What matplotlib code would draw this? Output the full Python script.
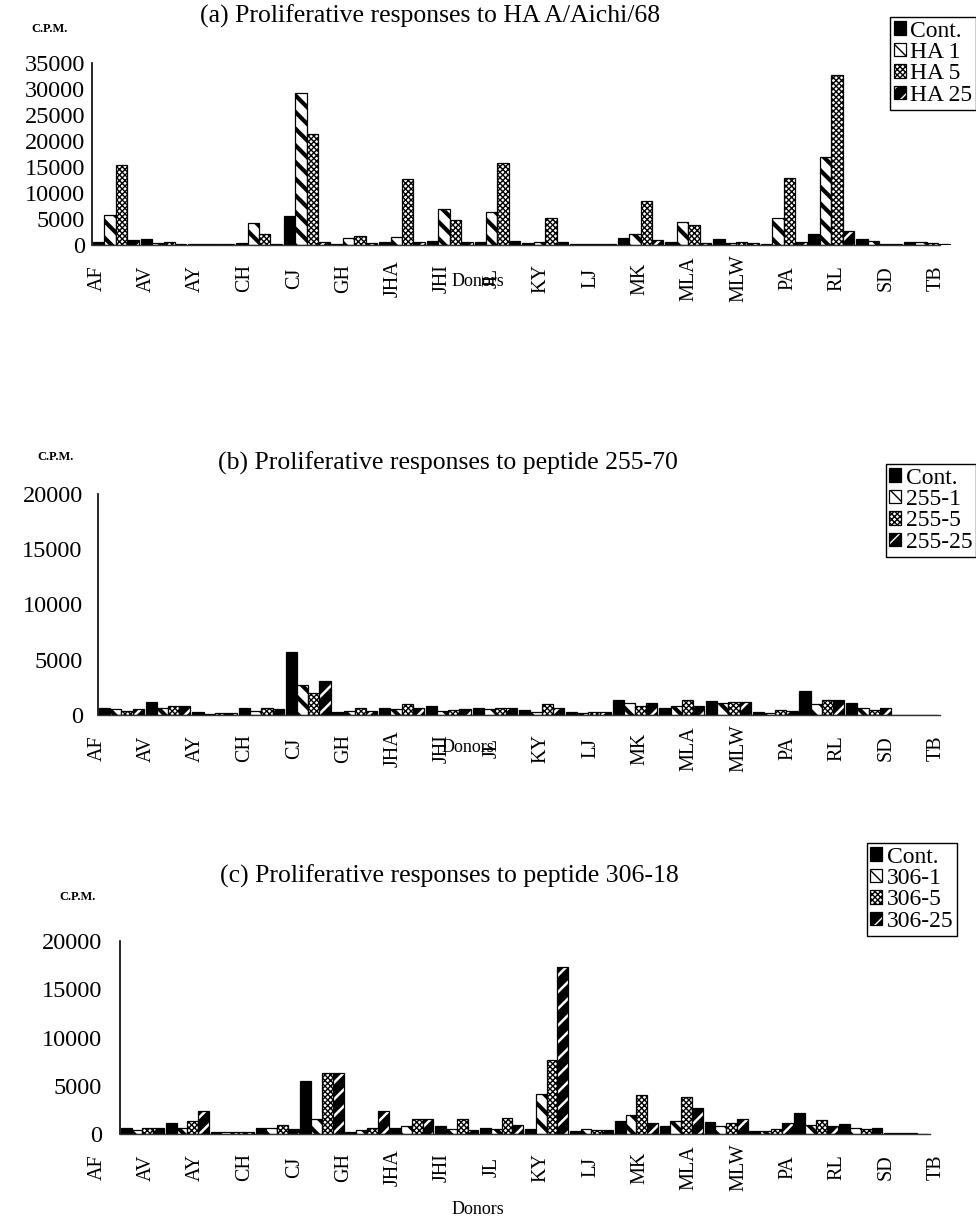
import numpy as np
import matplotlib
matplotlib.use("Agg")
import matplotlib.pyplot as plt
from matplotlib.patches import Patch
from matplotlib.legend_handler import HandlerTuple

plt.rcParams["font.family"] = ["Liberation Serif", "DejaVu Serif"]

donors = ["AF", "AV", "AY", "CH", "CJ", "GH", "JHA", "JHI", "JL", "KY",
          "LJ", "MK", "MLA", "MLW", "PA", "RL", "SD", "TB"]

# (a) HA A/Aichi/68
a_labels = ["Cont.", "HA 1", "HA 5", "HA 25"]
a_cont = [600, 1090, 100, 450, 5580, 150, 500, 770, 500, 300, 200, 1280, 600, 1150, 250, 2050, 1090, 500]
a_ha1 = [5770, 450, 100, 4300, 29170, 1410, 1600, 6900, 6400, 600, 150, 2200, 4490, 300, 5250, 16990, 770, 500]
a_ha5 = [15380, 600, 100, 2120, 21350, 1730, 12690, 4810, 15830, 5250, 150, 8550, 3850, 600, 12820, 32690, 130, 300]
a_ha25 = [960, 200, 150, 100, 600, 450, 500, 500, 770, 600, 150, 960, 300, 300, 600, 2690, 130, 100]

# (b) peptide 255-70
b_labels = ["Cont.", "255-1", "255-5", "255-25"]
b_cont = [670, 1150, 240, 600, 5700, 240, 600, 800, 600, 450, 240, 1360, 670, 1270, 300, 2210, 1060, 0]
b_p1 = [520, 670, 90, 360, 2670, 360, 520, 360, 520, 300, 150, 1060, 800, 1060, 200, 1000, 600, 0]
b_p5 = [360, 800, 150, 600, 1970, 600, 970, 450, 670, 1000, 300, 800, 1360, 1210, 490, 1360, 450, 0]
b_p25 = [520, 800, 150, 520, 3120, 360, 640, 520, 600, 600, 300, 1060, 800, 1210, 360, 1360, 670, 0]

# (c) peptide 306-18
c_labels = ["Cont.", "306-1", "306-5", "306-25"]
c_cont = [660, 1100, 250, 630, 5500, 250, 630, 790, 630, 470, 320, 1300, 790, 1270, 350, 2150, 1040, 150]
c_p1 = [410, 660, 160, 660, 1520, 410, 790, 470, 470, 4150, 470, 2000, 1360, 820, 350, 890, 660, 150]
c_p5 = [570, 1360, 160, 890, 6270, 630, 1520, 1520, 1680, 7630, 410, 3990, 3830, 1140, 470, 1420, 470, 100]
c_p25 = [660, 2370, 160, 470, 6270, 2370, 1520, 410, 980, 17300, 410, 1100, 2690, 1520, 1100, 790, 630, 50]

titles = ["(a) Proliferative responses to HA A/Aichi/68",
          "(b) Proliferative responses to peptide 255-70",
          "(c) Proliferative responses to peptide 306-18"]

W, H = 976, 1221
fig = plt.figure(figsize=(W / 100, H / 100), dpi=100)

BAR_W = 0.24
STYLES = ["solid", "back", "check", "fwd"]


def style_patches(style):
    """Return (fill kwargs, whether an outline overlay is needed, hatch line width)."""
    if style == "solid":
        return dict(facecolor="black", edgecolor="black"), False, 1.0
    if style == "back":
        return dict(facecolor="white", edgecolor="black", hatch="\\\\"), False, 3.0
    if style == "check":
        return dict(facecolor="white", edgecolor="black", hatch="xxxxxx"), False, 1.0
    return dict(facecolor="black", edgecolor="white", hatch="//"), True, 1.8


def draw_series(ax, x, vals, style):
    kw, overlay, hlw = style_patches(style)
    lw = 0.0 if overlay else 0.9
    with plt.rc_context({"hatch.linewidth": hlw}):
        bars = ax.bar(x, vals, BAR_W, align="edge", linewidth=lw, **kw)
        for b in bars:
            if hasattr(b, "set_hatch_linewidth"):
                b.set_hatch_linewidth(hlw)
    if overlay:
        ax.bar(x, vals, BAR_W, align="edge", fill=False, edgecolor="black", linewidth=0.9)


def legend_handle(style):
    kw, overlay, hlw = style_patches(style)
    with plt.rc_context({"hatch.linewidth": hlw}):
        p = Patch(linewidth=0.0 if overlay else 0.9, **kw)
        if hasattr(p, "set_hatch_linewidth"):
            p.set_hatch_linewidth(hlw)
    if overlay:
        return (p, Patch(fill=False, edgecolor="black", linewidth=0.9))
    return p


def px_box(left, right, top, bottom):
    return [left / W, 1 - bottom / H, (right - left) / W, (bottom - top) / H]


panels = [
    dict(series=[a_cont, a_ha1, a_ha5, a_ha25], labels=a_labels, L=92, R=940, top=63, bottom=245,
         S=47.7, ymax=35000, title_xy=(430, 16), cpm_xy=(50, 29), donors_xy=(478, 281),
         leg_xy=(976, 17), ypad=5),
    dict(series=[b_cont, b_p1, b_p5, b_p25], labels=b_labels, L=98, R=940, top=494, bottom=715,
         S=46.7, ymax=20000, title_xy=(448, 463), cpm_xy=(55, 457), donors_xy=(468, 748),
         leg_xy=(976, 464), ypad=11),
    dict(series=[c_cont, c_p1, c_p5, c_p25], labels=c_labels, L=120, R=930, top=941, bottom=1134,
         S=44.9, ymax=20000, title_xy=(449, 876), cpm_xy=(77, 897), donors_xy=(478, 1210),
         leg_xy=(957, 843), ypad=13),
]

LABEL_PX0, LABEL_STEP = 97, 49.35

for n, p in enumerate(panels):
    L, R, S = p["L"], p["R"], p["S"]
    xmax = (R - L) / S
    x0, x1 = -0.8, xmax + 0.6
    ax = fig.add_axes(px_box(L + x0 * S, L + x1 * S, p["top"], p["bottom"]))
    ax.set_xlim(x0, x1)
    ax.set_ylim(0, p["ymax"])
    idx = np.arange(len(donors))
    for k, (vals, st) in enumerate(zip(p["series"], STYLES)):
        draw_series(ax, idx + k * BAR_W + 0.02, vals, st)

    for s in ("top", "right"):
        ax.spines[s].set_visible(False)
    ax.spines["left"].set_position(("data", 0))
    ax.spines["left"].set_linewidth(1.2)
    ax.spines["bottom"].set_bounds(0, xmax)
    ax.spines["bottom"].set_linewidth(1.0)
    ax.spines["bottom"].set_color("#333333")

    ax.set_yticks(np.arange(0, p["ymax"] + 1, 5000))
    ax.tick_params(axis="y", length=0, pad=p["ypad"], labelsize=17.5)
    tick_pos = (LABEL_PX0 + LABEL_STEP * idx - L) / S
    ax.set_xticks(tick_pos)
    ax.set_xticklabels(donors, rotation=90, fontsize=14.5)
    ax.tick_params(axis="x", length=0, pad=24)
    for t in ax.get_xticklabels():
        t.set_va("center")

    tx, ty = p["title_xy"]
    fig.text(tx / W, 1 - ty / H, titles[n], ha="center", va="center", fontsize=18.5)
    cx, cy = p["cpm_xy"]
    fig.text(cx / W, 1 - cy / H, "C.P.M.", ha="center", va="center", fontsize=9, fontweight="bold")
    dx, dy = p["donors_xy"]
    fig.text(dx / W, 1 - dy / H, "Donors", ha="center", va="center", fontsize=13)

    handles = [legend_handle(st) for st in STYLES]
    lx, ly = p["leg_xy"]
    leg = ax.legend(handles, p["labels"], loc="upper right", bbox_to_anchor=(lx / W, 1 - ly / H),
                    bbox_transform=fig.transFigure, fontsize=17, frameon=True, fancybox=False,
                    framealpha=1, edgecolor="black", handlelength=0.5, handleheight=0.5,
                    handletextpad=0.2, borderpad=0.15, labelspacing=0.02, borderaxespad=0,
                    handler_map={tuple: HandlerTuple(ndivide=1)})
    leg.get_frame().set_linewidth(1.0)

fig.savefig("out.png", dpi=100, facecolor="white")
